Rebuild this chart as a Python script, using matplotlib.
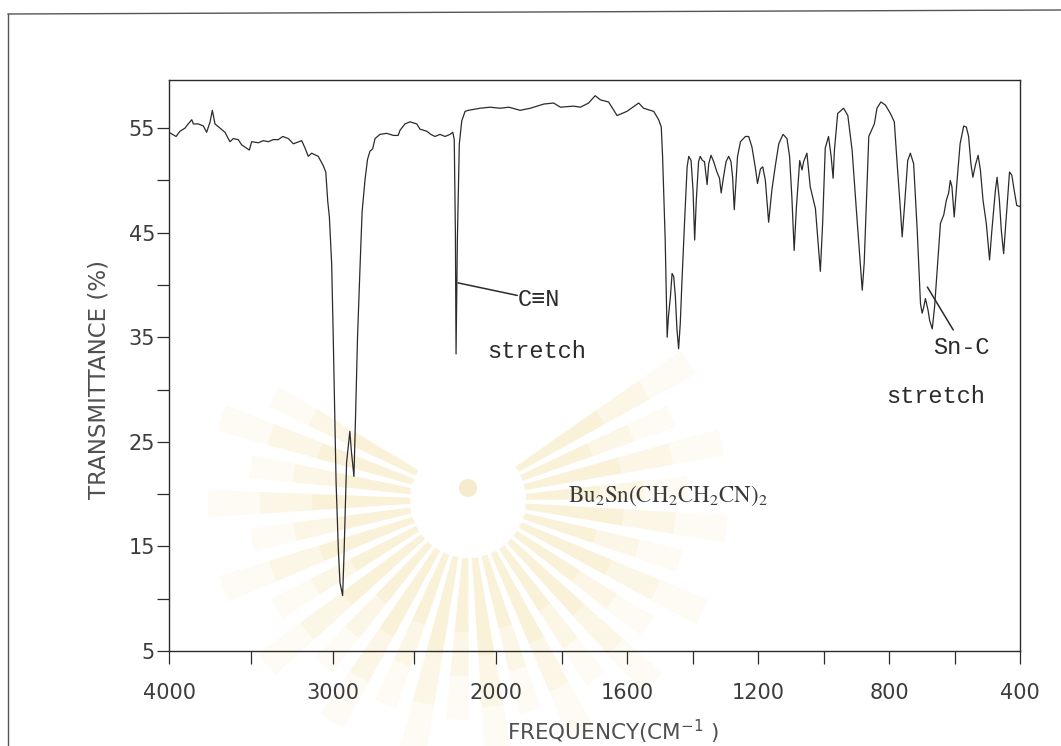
import numpy as np
import matplotlib
matplotlib.use("Agg")
import matplotlib.pyplot as plt
from matplotlib.lines import Line2D
from matplotlib.patches import Wedge, Circle

# IR spectrum of Bu2Sn(CH2CH2CN)2
wavenumber = [
    4000, 3957, 3933, 3902, 3888, 3861, 3851, 3821, 3790, 3770, 3749, 3735, 3719,
    3688, 3658, 3638, 3627, 3607, 3577, 3556, 3509, 3495, 3454, 3424, 3393, 3363,
    3332, 3305, 3271, 3240, 3189, 3169, 3149, 3128, 3088, 3057, 3042, 3030, 3020,
    3006, 2996, 2979, 2965, 2955, 2939, 2930, 2915, 2905, 2895, 2885, 2870, 2860,
    2848, 2833, 2820, 2802, 2787, 2772, 2756, 2741, 2711, 2670, 2629, 2600, 2588,
    2558, 2527, 2486, 2466, 2425, 2400, 2375, 2344, 2313, 2283, 2266, 2257, 2250,
    2246, 2238, 2226, 2211, 2191, 2171, 2099, 2038, 1988, 1962, 1927, 1896, 1855,
    1825, 1804, 1764, 1743, 1718, 1698, 1682, 1657, 1631, 1601, 1565, 1550, 1519,
    1504, 1496, 1492, 1484, 1478, 1474, 1468, 1463, 1458, 1453, 1448, 1443, 1438,
    1433, 1425, 1417, 1412, 1405, 1399, 1394, 1389, 1382, 1377, 1370, 1364, 1356,
    1351, 1344, 1336, 1326, 1318, 1313, 1306, 1298, 1290, 1283, 1278, 1273, 1268,
    1263, 1254, 1239, 1229, 1219, 1209, 1202, 1193, 1186, 1178, 1168, 1158, 1148,
    1137, 1124, 1112, 1104, 1097, 1090, 1083, 1073, 1066, 1061, 1051, 1041, 1025,
    1010, 1003, 995, 985, 977, 971, 967, 957, 939, 926, 913, 900, 888, 882, 876,
    862, 855, 845, 837, 825, 811, 796, 784, 776, 766, 760, 753, 743, 735, 725,
    714, 704, 699, 694, 689, 681, 676, 668, 661, 653, 643, 633, 625, 618, 613,
    608, 601, 593, 583, 572, 564, 557, 550, 544, 536, 528, 521, 513, 503, 493,
    486, 475, 470, 463, 457, 450, 442, 432, 425, 418, 410, 400,
]
transmittance = [
    54.6, 54.2, 54.7, 55.0, 55.3, 55.8, 55.4, 55.4, 55.2, 54.6, 55.6, 56.7, 55.4,
    55.0, 54.6, 54.0, 53.7, 54.0, 53.9, 53.4, 52.9, 53.7, 53.6, 53.8, 53.7, 53.9,
    53.9, 54.2, 54.0, 53.5, 53.8, 53.1, 52.3, 52.6, 52.3, 51.4, 50.8, 48.0, 46.5,
    42.0, 34.7, 21.1, 14.6, 11.5, 10.3, 14.5, 23.0, 24.5, 26.0, 24.0, 21.7, 27.5,
    35.0, 41.6, 47.0, 50.1, 52.0, 52.8, 53.0, 54.0, 54.4, 54.5, 54.3, 54.3, 54.8,
    55.4, 55.6, 55.4, 54.9, 54.7, 54.4, 54.2, 54.4, 54.2, 54.4, 54.6, 53.9, 45.0,
    33.4, 44.3, 53.5, 55.7, 56.6, 56.7, 56.9, 57.0, 56.9, 57.0, 56.7, 56.9, 57.3,
    57.4, 57.0, 57.1, 57.0, 57.4, 58.1, 57.7, 57.5, 56.2, 56.6, 57.4, 56.9, 56.6,
    55.8, 55.1, 52.3, 44.3, 35.0, 37.0, 38.9, 41.1, 40.8, 38.9, 35.7, 33.9, 36.3,
    40.2, 45.9, 51.3, 52.3, 51.9, 49.1, 44.3, 48.1, 51.8, 52.3, 51.9, 51.8, 49.6,
    51.6, 52.4, 51.8, 50.8, 50.2, 48.8, 50.3, 51.8, 52.3, 51.8, 50.3, 47.2, 49.7,
    52.3, 53.7, 54.2, 54.2, 53.2, 51.3, 49.7, 51.1, 51.3, 50.0, 46.0, 49.1, 51.3,
    53.5, 54.4, 54.0, 52.3, 48.4, 43.3, 47.5, 51.9, 51.0, 51.8, 52.6, 49.4, 47.3,
    41.3, 45.9, 53.1, 54.2, 52.3, 50.2, 52.9, 56.4, 56.9, 56.2, 52.9, 47.2, 42.1, 39.5, 42.1,
    54.2, 54.7, 55.4, 56.9, 57.5, 57.2, 56.4, 55.6, 51.9, 47.5, 44.6, 47.5, 51.9, 52.6, 51.6,
    45.2, 38.2, 37.3, 37.9, 38.7, 37.6, 36.6, 35.8, 37.9, 41.4, 45.9, 46.7, 48.1, 48.8, 50.0,
    49.4, 46.5, 49.7, 53.5, 55.2, 55.1, 54.2, 51.6, 50.3, 51.5, 52.4, 51.0, 48.1, 45.9, 42.4,
    45.2, 49.1, 50.3, 48.1, 45.2, 43.0, 46.5, 50.8, 50.5, 49.1, 47.6, 47.5,
]

x_major = [4000, 3000, 2000, 1600, 1200, 800, 400]
x_minor = [3500, 2500, 1800, 1400, 1000, 600]
y_major = [5, 15, 25, 35, 45, 55]
y_minor = [10, 20, 30, 40, 50]


# grating change at 2000 cm-1: below it the scale is stretched twofold
def fwd(x):
    x = np.asarray(x, dtype=float)
    return np.where(x >= 2000, x, 2 * x - 2000)


def inv(u):
    u = np.asarray(u, dtype=float)
    return np.where(u >= 2000, u, (u + 2000) / 2)


ink = "#2b2b2b"
label_grey = "#505050"

fig = plt.figure(figsize=(10.61, 7.46), dpi=100)

# very faint library stamp behind the chart (pixel coords, y down)
bg = fig.add_axes([0, 0, 1, 1], zorder=-1)
bg.set_xlim(0, 1061)
bg.set_ylim(746, 0)
bg.axis("off")
cx, cy = 468, 500
for k in range(26):
    a0 = -35 + k * 9.6
    r_out = 260 if k % 2 == 0 else 220
    for r1, al in [(r_out, 0.08), (r_out * 0.8, 0.10), (r_out * 0.6, 0.12)]:
        bg.add_patch(Wedge((cx, cy), r1, a0, a0 + 6.0, width=r1 - 58,
                           color="#f3cf78", alpha=al, lw=0))
bg.add_patch(Circle((cx, cy), 56, color="white", lw=0))
bg.add_patch(Circle((cx, cy - 12), 9, color="#f7ebcd", lw=0))

ax = fig.add_axes([169 / 1061, 1 - 651 / 746, 851 / 1061, 571 / 746])
ax.patch.set_alpha(0)
ax.set_xscale("function", functions=(fwd, inv))
ax.set_xlim(4000, 400)
ax.set_ylim(5, 59.6)

ax.plot(wavenumber, transmittance, color=ink, lw=0.9)

ax.set_xticks(x_major)
ax.set_xticklabels([str(v) for v in x_major])
ax.set_xticks(x_minor, minor=True)
ax.set_xticklabels([], minor=True)
ax.set_yticks(y_major)
ax.set_yticklabels([str(v) for v in y_major])
ax.set_yticks(y_minor, minor=True)

for s in ax.spines.values():
    s.set_color(ink)
    s.set_linewidth(1.0)
ax.tick_params(which="both", direction="out", length=9, width=0.9, color=ink)
ax.tick_params(axis="x", which="major", pad=14, labelsize=15, labelcolor="#3c3c3c")
ax.tick_params(axis="y", which="major", pad=1, labelsize=15, labelcolor="#3c3c3c")

ax.set_ylabel("TRANSMITTANCE (%)", fontsize=16.5, color=label_grey)
ax.yaxis.set_label_coords(-0.069, 0.475)
ax.set_xlabel("FREQUENCY(CM$^{-1}$ )", fontsize=15.5, color=label_grey)
ax.xaxis.set_label_coords(0.522, -0.117)

mono = ["Liberation Mono", "DejaVu Sans Mono"]
lead = dict(arrowstyle="-", lw=1.1, color=ink, shrinkA=0, shrinkB=0)

# C=N stretch
ax.annotate("", xy=(2234, 40.2), xytext=(1936, 39.0), arrowprops=lead)
ax.text(1936, 38.6, "C≡N", family=mono, fontsize=17, color=ink, va="center", ha="left")
ax.text(2057, 33.6, "stretch", family=mono, fontsize=17, color=ink, va="center", ha="left")

# Sn-C stretch
ax.annotate("", xy=(683, 39.8), xytext=(604, 35.7), arrowprops=lead)
ax.text(665, 34.0, "Sn-C", family=mono, fontsize=17, color=ink, va="center", ha="left")
ax.text(808, 29.3, "stretch", family=mono, fontsize=17, color=ink, va="center", ha="left")

ax.text(1780, 19.8, r"$\mathrm{Bu_2Sn(CH_2CH_2CN)_2}$", fontsize=16.5,
        math_fontfamily="stix", color="#3a3a3a", va="center", ha="left")

# page frame of the scan
fig.add_artist(Line2D([8 / 1061, 8 / 1061], [0, 1 - 14 / 746],
                      transform=fig.transFigure, color="#555555", lw=1.0))
fig.add_artist(Line2D([8 / 1061, 1], [1 - 14 / 746, 1 - 10 / 746],
                      transform=fig.transFigure, color="#555555", lw=1.0))

fig.savefig("out.png", dpi=100)
